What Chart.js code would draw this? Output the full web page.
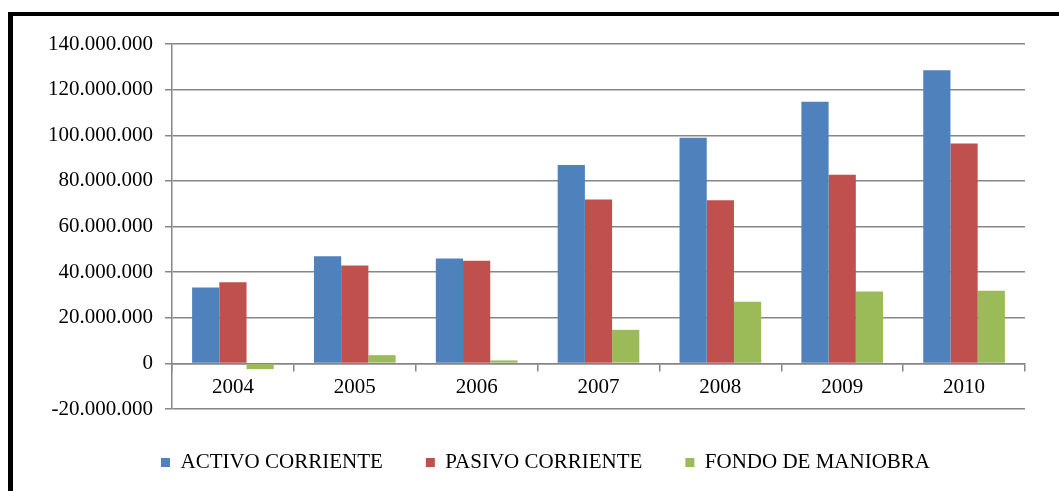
<!DOCTYPE html>
<html>
<head>
<meta charset="utf-8">
<script src="https://cdn.jsdelivr.net/npm/chart.js@4/dist/chart.umd.min.js"></script>
<style>
  html, body { margin: 0; padding: 0; background: #fff; overflow: hidden; }
  #wrap { position: relative; width: 1059px; height: 491px; }
  #frame {
    position: absolute; left: 8px; top: 12px; width: 1100px; height: 520px;
    border-left: 5px solid #000; border-top: 4px solid #000;
  }
  canvas { position: absolute; left: 0; top: 0; }
</style>
</head>
<body>
<div id="wrap">
  <div id="frame"></div>
  <canvas id="myChart" width="1059" height="491"></canvas>
</div>
<script>
// años y valores
const years = ['2004', '2005', '2006', '2007', '2008', '2009', '2010'];
const activoCorriente = [33300000, 47000000, 46000000, 87000000, 98900000, 114700000, 128500000];
const pasivoCorriente = [35600000, 42900000, 45000000, 71800000, 71500000, 82700000, 96400000];
const fondoManiobra = [-2500000, 3600000, 1300000, 14700000, 27000000, 31500000, 31800000];
const seriesNames = ['ACTIVO CORRIENTE', 'PASIVO CORRIENTE', 'FONDO DE MANIOBRA'];
const yMin = -20000000;
const yMax = 140000000;
const yStep = 20000000;

function formatNum(v) {
    if (v === 0) return '0';
    const s = Math.abs(v).toString().replace(/\B(?=(\d{3})+(?!\d))/g, '.');
    return (v < 0 ? '-' : '') + s;
}

const font = { family: '"Liberation Serif", "Times New Roman", serif', size: 21 };

// la leyenda del original está algo desplazada a la derecha
const legendShift = {
    id: 'legendShift',
    afterLayout(chart) {
        const lg = chart.legend;
        if (lg) {
            lg.left += 33;
            lg.right += 33;
        }
    }
};

const ctx = document.getElementById('myChart').getContext('2d');
const myChart = new Chart(ctx, {
    type: 'bar',
    data: {
        labels: years,
        datasets: [{
            label: seriesNames[0],
            data: activoCorriente,
            backgroundColor: '#4F81BD'
        }, {
            label: seriesNames[1],
            data: pasivoCorriente,
            backgroundColor: '#C0504D'
        }, {
            label: seriesNames[2],
            data: fondoManiobra,
            backgroundColor: '#9BBB59'
        }]
    },
    options: {
        responsive: false,
        animation: false,
        layout: {
            padding: { left: 0, right: 34, top: 44, bottom: 8 }
        },
        datasets: {
            bar: {
                barPercentage: 1,
                categoryPercentage: 0.67
            }
        },
        scales: {
            x: {
                position: { y: 0 },
                grid: {
                    offset: true,
                    drawOnChartArea: false,
                    drawTicks: true,
                    tickLength: 7,
                    color: '#868686',
                    lineWidth: 1.5
                },
                border: { color: '#868686', width: 1.5 },
                ticks: { color: '#000', font: font, padding: 5, maxRotation: 0 }
            },
            y: {
                min: yMin,
                max: yMax,
                afterFit: function (scale) { scale.width = 172; },
                grid: {
                    color: '#868686',
                    lineWidth: 1.5,
                    tickLength: 7
                },
                border: { color: '#868686', width: 1.5 },
                ticks: {
                    stepSize: yStep,
                    color: '#000',
                    font: font,
                    padding: 12,
                    callback: function (v) { return formatNum(v); }
                }
            }
        },
        plugins: {
            legend: {
                position: 'bottom',
                labels: {
                    color: '#000',
                    font: font,
                    boxWidth: 9,
                    boxHeight: 9,
                    padding: 43
                }
            },
            tooltip: { enabled: false }
        }
    },
    plugins: [legendShift]
});
</script>
</body>
</html>
